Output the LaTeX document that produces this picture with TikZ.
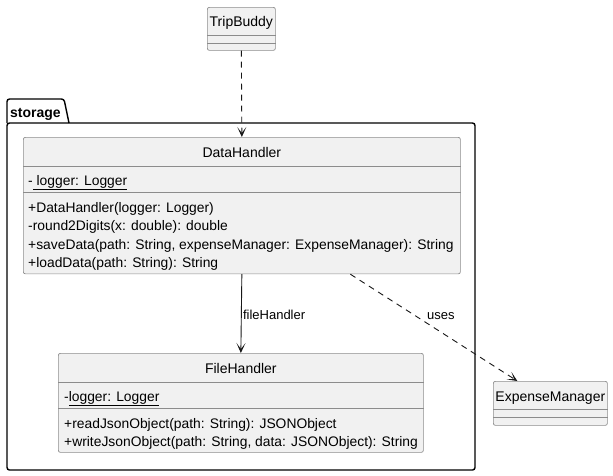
\documentclass[tikz,border=0pt]{standalone}
\usepackage{fontspec}
\setmainfont{Liberation Sans}
\usepackage{xcolor}
\usepackage{tikz}
\usetikzlibrary{calc, arrows.meta, positioning}
\definecolor{boxfill}{HTML}{F1F1F1}
\definecolor{boxline}{HTML}{8C8C8C}
\definecolor{umlink}{HTML}{181818}
\tikzset{
    classnode/.style = {draw=boxline, fill=boxfill, rectangle, rounded corners=2pt, line width=0.7pt,
      inner sep=0pt, anchor=north west},
    sepline/.style = {draw=boxline, line width=0.7pt},
    titlenode/.style = {draw=none, fill=none, inner sep=0pt, anchor=base, font=\fontsize{14}{16}\selectfont},
    membernode/.style = {draw=none, fill=none, inner sep=0pt, anchor=base west, font=\fontsize{13.85}{16}\selectfont},
    labelnode/.style = {draw=none, fill=none, inner sep=0pt, anchor=base west, font=\fontsize{13}{15}\selectfont},
    pkgline/.style = {draw=black, line width=1.4pt, rounded corners=2.5pt},
    depend/.style = {umlink, line width=0.9pt, dash pattern=on 6pt off 5pt,
      -{Stealth[length=10pt, width=9pt, inset=6pt]}},
    assoc/.style = {umlink, line width=0.9pt, -{Stealth[length=10pt, width=9pt, inset=6pt]}}
}

\begin{document}
\begin{tikzpicture}[x=1pt, y=-1pt]
    \useasboundingbox (0,0) rectangle (613,475);

    % package storage
    \draw [pkgline] (7,123) rectangle (475,470);
    \draw [pkgline] (7,123) -- (7,99) -- (64,99) -- (69,123);
    \node [name=pkg, labelnode, font=\fontsize{14}{16}\selectfont\bfseries] at (10,117) {storage};

    % TripBuddy
    \node [name=tb, classnode, minimum width=68pt, minimum height=43pt] at (207,7) {};
    \node [name=tbName, titlenode] at ([yshift=-19pt]tb.north) {TripBuddy};
    \draw [sepline] ([yshift=-28pt]tb.north west) -- ([yshift=-28pt]tb.north east);
    \draw [sepline] ([yshift=-36pt]tb.north west) -- ([yshift=-36pt]tb.north east);

    % DataHandler
    \node [name=dh, classnode, minimum width=437pt, minimum height=136.5pt] at (23,137) {};
    \node [name=dhName, titlenode] at ([yshift=-20pt]dh.north) {DataHandler};
    \draw [sepline] ([yshift=-29pt]dh.north west) -- ([yshift=-29pt]dh.north east);
    \draw [sepline] ([yshift=-55pt]dh.north west) -- ([yshift=-55pt]dh.north east);
    \node [name=dhF, membernode] at ([xshift=5pt, yshift=-48pt]dh.north west) {-\underline{\ logger: Logger}};
    \node [name=dhM1, membernode] at ([xshift=5pt, yshift=-75pt]dh.north west) {+DataHandler(logger: Logger)};
    \node [name=dhM2, membernode] at ([xshift=5pt, yshift=-93.5pt]dh.north west) {-round2Digits(x: double): double};
    \node [name=dhM3, membernode] at ([xshift=5pt, yshift=-112pt]dh.north west) {+saveData(path: String, expenseManager: ExpenseManager): String};
    \node [name=dhM4, membernode] at ([xshift=5pt, yshift=-130.5pt]dh.north west) {+loadData(path: String): String};

    % FileHandler
    \node [name=fh, classnode, minimum width=365pt, minimum height=99pt] at (58,353) {};
    \node [name=fhName, titlenode] at ([yshift=-20pt]fh.north) {FileHandler};
    \draw [sepline] ([yshift=-29pt]fh.north west) -- ([yshift=-29pt]fh.north east);
    \draw [sepline] ([yshift=-55pt]fh.north west) -- ([yshift=-55pt]fh.north east);
    \node [name=fhF, membernode] at ([xshift=6pt, yshift=-48pt]fh.north west) {-\underline{logger: Logger}};
    \node [name=fhM1, membernode] at ([xshift=6pt, yshift=-75pt]fh.north west) {+readJsonObject(path: String): JSONObject};
    \node [name=fhM2, membernode] at ([xshift=6pt, yshift=-93.5pt]fh.north west) {+writeJsonObject(path: String, data: JSONObject): String};

    % ExpenseManager
    \node [name=em, classnode, minimum width=114pt, minimum height=44pt] at (493,381) {};
    \node [name=emName, titlenode] at ([yshift=-20pt]em.north) {ExpenseManager};
    \draw [sepline] ([yshift=-28pt]em.north west) -- ([yshift=-28pt]em.north east);
    \draw [sepline] ([yshift=-36pt]em.north west) -- ([yshift=-36pt]em.north east);

    % relations
    \draw [depend] (tb.south) -- (dh.north);
    \draw [assoc] (dh.south) -- (fh.north);
    \node [name=lbFile, labelnode] at ([xshift=1pt, yshift=-45pt]dh.south) {fileHandler};
    \draw [depend] ([xshift=108.5pt]dh.south) -- ([xshift=-33pt]em.north);
    \node [name=lbUses, labelnode] at (427,319) {uses};
\end{tikzpicture}
\end{document}
